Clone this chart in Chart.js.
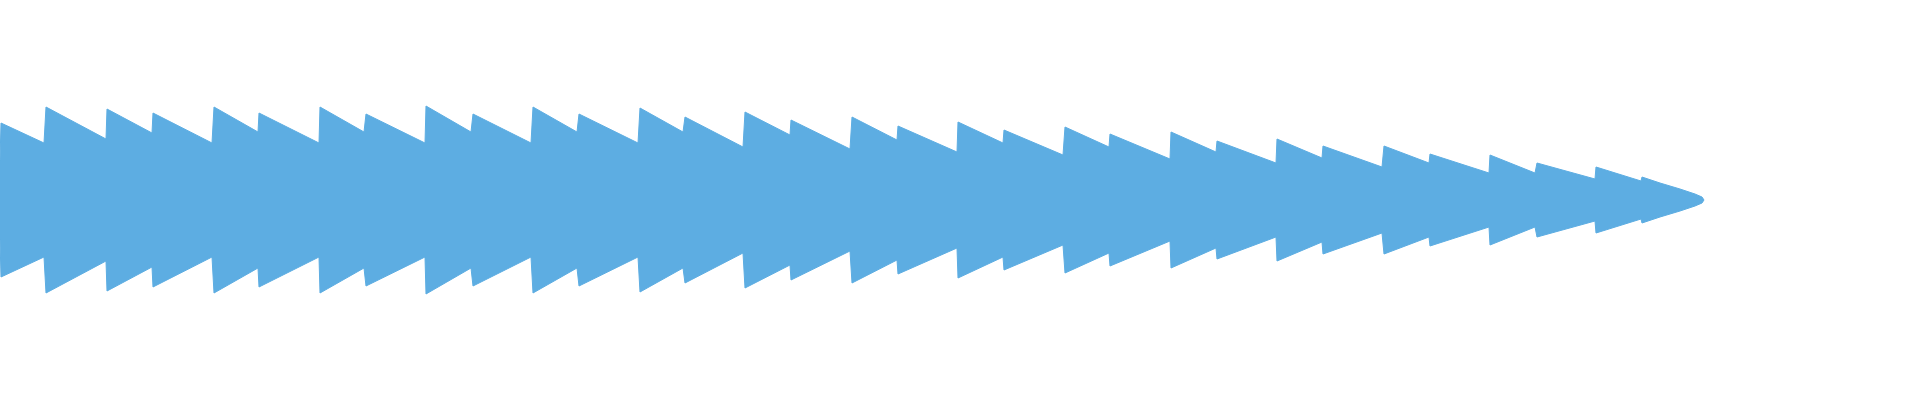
<!DOCTYPE html>
<html>
<head>
<meta charset="utf-8">
<script src="https://cdn.jsdelivr.net/npm/chart.js@4"></script>
<style>
    html, body { margin: 0; padding: 0; background: #ffffff; }
    #wrap { width: 1920px; height: 400px; }
</style>
</head>
<body>
<div id="wrap"><canvas id="waveChart"></canvas></div>
<script>
// Waveform envelope, one decaying segment per note (time in s, amplitude as fraction of full scale)
const segStart = [0.01, 0.46, 1.07, 1.53, 2.14, 2.59, 3.20, 3.66, 4.26, 4.73, 5.33, 5.79,
                  6.40, 6.85, 7.45, 7.91, 8.52, 8.98, 9.58, 10.04, 10.65, 11.10, 11.71, 12.17,
                  12.77, 13.23, 13.84, 14.30, 14.90, 15.37, 15.96, 16.42];
const segEnd   = [0.44, 1.06, 1.52, 2.12, 2.58, 3.19, 3.64, 4.25, 4.71, 5.31, 5.77, 6.38,
                  6.83, 7.43, 7.90, 8.50, 8.97, 9.57, 10.03, 10.63, 11.09, 11.70, 12.16, 12.76,
                  13.22, 13.82, 14.29, 14.89, 15.35, 15.95, 16.41, 16.60];
const ampStart = [0.385, 0.465, 0.455, 0.435, 0.465, 0.435, 0.465, 0.430, 0.470, 0.430, 0.465, 0.430,
                  0.460, 0.415, 0.440, 0.400, 0.415, 0.370, 0.390, 0.350, 0.365, 0.330, 0.340, 0.295,
                  0.305, 0.270, 0.270, 0.230, 0.225, 0.185, 0.165, 0.115];
const ampEnd   = [0.285, 0.305, 0.335, 0.285, 0.340, 0.285, 0.340, 0.285, 0.340, 0.285, 0.340, 0.285,
                  0.340, 0.265, 0.325, 0.255, 0.300, 0.240, 0.285, 0.225, 0.265, 0.205, 0.240, 0.185,
                  0.210, 0.165, 0.185, 0.135, 0.135, 0.105, 0.095, 0.085];

// onset sliver at the very start and the fade-out of the last note
const headTime = [0.00];
const headAmp  = [0.195];
const tailTime = [16.80, 16.95, 17.02, 17.04];
const tailAmp  = [0.055, 0.030, 0.015, 0.000];

const upper = [];
headTime.forEach((t, i) => upper.push({ x: t, y: headAmp[i] }));
segStart.forEach((t, i) => {
    upper.push({ x: t, y: ampStart[i] });
    upper.push({ x: segEnd[i], y: ampEnd[i] });
});
tailTime.forEach((t, i) => upper.push({ x: t, y: tailAmp[i] }));
const lower = upper.map(p => ({ x: p.x, y: -p.y }));

const waveColor = '#5dade2';

new Chart(document.getElementById('waveChart').getContext('2d'), {
    type: 'line',
    data: {
        datasets: [{
            data: upper,
            borderColor: waveColor,
            backgroundColor: waveColor,
            borderWidth: 1,
            pointRadius: 0,
            tension: 0,
            fill: '+1'
        }, {
            data: lower,
            borderColor: waveColor,
            backgroundColor: waveColor,
            borderWidth: 1,
            pointRadius: 0,
            tension: 0,
            fill: false
        }]
    },
    options: {
        responsive: true,
        maintainAspectRatio: false,
        animation: false,
        layout: { padding: 0 },
        plugins: {
            legend: { display: false },
            tooltip: { enabled: false }
        },
        scales: {
            x: { type: 'linear', min: 0, max: 19.2, display: false },
            y: { min: -1, max: 1, display: false }
        }
    }
});
</script>
</body>
</html>
